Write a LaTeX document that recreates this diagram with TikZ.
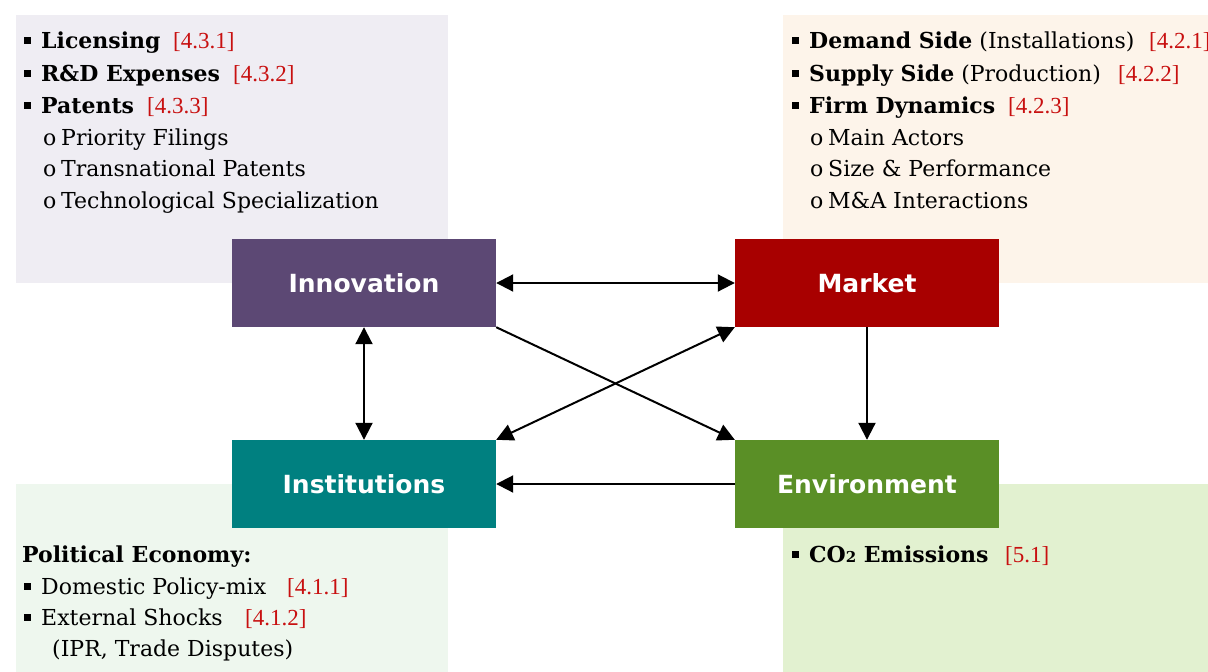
\documentclass[tikz,border=0pt]{standalone}
\usepackage{fontspec}
\setmainfont{DejaVu Serif}
\newfontfamily\reffont{Liberation Serif}
\newfontfamily\boxfont{DejaVu Sans}
\usetikzlibrary{arrows.meta}
\definecolor{tlbg}{RGB}{239,237,243}
\definecolor{trbg}{RGB}{253,244,234}
\definecolor{blbg}{RGB}{238,247,238}
\definecolor{brbg}{RGB}{226,241,208}
\definecolor{innc}{RGB}{92,72,116}
\definecolor{mktc}{RGB}{168,0,0}
\definecolor{insc}{RGB}{0,128,128}
\definecolor{envc}{RGB}{90,143,38}
\definecolor{refred}{RGB}{200,16,16}
\newcommand{\sqb}{\rule[4.5pt]{7pt}{7pt}}
\newcommand{\bitem}[1]{\makebox[17pt][l]{\sqb}#1}
\newcommand{\oitem}[1]{\makebox[18pt][l]{o}#1}
\tikzset{
  txt/.style={anchor=base west, inner sep=0pt, font=\fontsize{22}{22}\selectfont},
  reftxt/.style={anchor=base west, inner sep=0pt, text=refred, font=\reffont\fontsize{23}{23}\selectfont},
  blk/.style={minimum width=264pt, minimum height=88pt, inner sep=0pt, text=white,
    font=\boxfont\bfseries\fontsize{25}{25}\selectfont},
  conn/.style={line width=2pt, -{Triangle[length=17pt,width=17pt]}},
  biconn/.style={line width=2pt, {Triangle[length=17pt,width=17pt]}-{Triangle[length=17pt,width=17pt]}}
}
\begin{document}
\begin{tikzpicture}[x=1pt,y=-1pt]
\useasboundingbox (0,0) rectangle (1208,672);
\fill[white] (0,0) rectangle (1208,672);
% panels
\fill[tlbg] (16,15) rectangle (448,283);
\fill[trbg] (783,15) rectangle (1208,283);
\fill[blbg] (16,484) rectangle (448,672);
\fill[brbg] (783,484) rectangle (1208,672);
% top-left texts
\node[txt] (tl1) at (24,48) {\bitem{\bfseries Licensing}};
\node[reftxt] (tl1r) at (173,48) {[4.3.1]};
\node[txt] (tl2) at (24,81) {\bitem{\bfseries R\&D Expenses}};
\node[reftxt] (tl2r) at (233,81) {[4.3.2]};
\node[txt] (tl3) at (24,113) {\bitem{\bfseries Patents}};
\node[reftxt] (tl3r) at (147,113) {[4.3.3]};
\node[txt] (tl4) at (43,145) {\oitem{Priority Filings}};
\node[txt] (tl5) at (43,176) {\oitem{Transnational Patents}};
\node[txt] (tl6) at (43,208) {\oitem{Technological Specialization}};
% top-right texts
\node[txt] (tr1) at (792,48) {\bitem{\textbf{Demand Side} (Installations)}};
\node[reftxt] (tr1r) at (1149,48) {[4.2.1]};
\node[txt] (tr2) at (792,81) {\bitem{\textbf{Supply Side} (Production)}};
\node[reftxt] (tr2r) at (1118,81) {[4.2.2]};
\node[txt] (tr3) at (792,113) {\bitem{\bfseries Firm Dynamics}};
\node[reftxt] (tr3r) at (1008,113) {[4.2.3]};
\node[txt] (tr4) at (810,145) {\oitem{Main Actors}};
\node[txt] (tr5) at (810,176) {\oitem{Size \& Performance}};
\node[txt] (tr6) at (810,208) {\oitem{M\&A Interactions}};
% bottom-left texts
\node[txt] (bl1) at (22,562) {\bfseries Political Economy:};
\node[txt] (bl2) at (24,594) {\bitem{Domestic Policy-mix}};
\node[reftxt] (bl2r) at (287,594) {[4.1.1]};
\node[txt] (bl3) at (24,625) {\bitem{External Shocks}};
\node[reftxt] (bl3r) at (245,625) {[4.1.2]};
\node[txt] (bl4) at (52,656) {(IPR, Trade Disputes)};
% bottom-right texts
\node[txt] (br1) at (792,562) {\bitem{\bfseries CO{\fontsize{15}{15}\selectfont 2} Emissions}};
\node[reftxt] (br1r) at (1005,562) {[5.1]};
% blocks
\node[blk, fill=innc] (inn) at (364,283) {Innovation};
\node[blk, fill=mktc] (mkt) at (867,283) {Market};
\node[blk, fill=insc] (ins) at (364,484) {Institutions};
\node[blk, fill=envc] (env) at (867,484) {Environment};
% connectors
\draw[biconn] (inn.east) -- (mkt.west);
\draw[biconn] (inn.south) -- (ins.north);
\draw[conn] (mkt.south) -- (env.north);
\draw[conn] (env.west) -- (ins.east);
\draw[conn] (inn.south east) -- (env.north west);
\draw[biconn] (mkt.south west) -- (ins.north east);
\end{tikzpicture}
\end{document}
